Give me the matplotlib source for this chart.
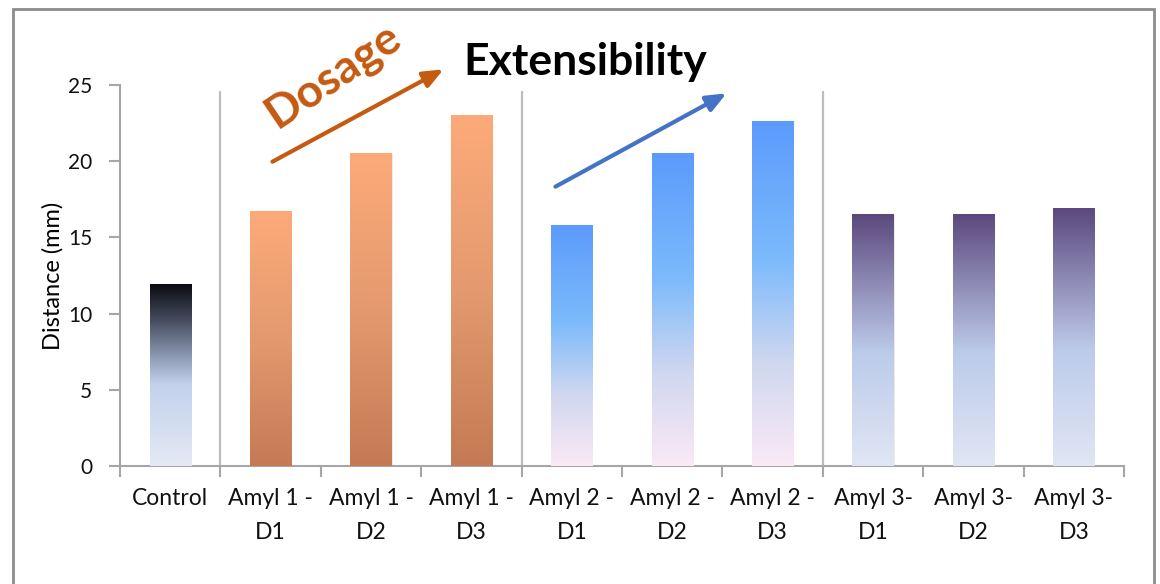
import numpy as np
import matplotlib
matplotlib.use("Agg")
import matplotlib.pyplot as plt
from matplotlib.colors import LinearSegmentedColormap
from matplotlib.patches import Rectangle, FancyArrowPatch

categories = ["Control", "Amyl 1 -\nD1", "Amyl 1 -\nD2", "Amyl 1 -\nD3",
              "Amyl 2 -\nD1", "Amyl 2 -\nD2", "Amyl 2 -\nD3",
              "Amyl 3-\nD1", "Amyl 3-\nD2", "Amyl 3-\nD3"]
values = [11.9, 16.7, 20.5, 23.0, 15.8, 20.5, 22.6, 16.5, 16.5, 16.9]
groups = ["control", "amyl1", "amyl1", "amyl1", "amyl2", "amyl2", "amyl2",
          "amyl3", "amyl3", "amyl3"]
yticks = [0, 5, 10, 15, 20, 25]

# gradient stops: (fraction from bottom, colour)
gradients = {
    "control": [(0.0, "#e4e9f5"), (0.45, "#c3d1ec"), (0.6, "#8d9ab4"),
                (0.8, "#474e60"), (1.0, "#0a0a10")],
    "amyl1": [(0.0, "#c47b55"), (0.5, "#e39a6e"), (1.0, "#fdaa7a")],
    "amyl2": [(0.0, "#fbe9f6"), (0.3, "#cfd7ef"), (0.6, "#7cbafc"),
              (1.0, "#5b9bfb")],
    "amyl3": [(0.0, "#e0e6f4"), (0.45, "#bccbea"), (0.65, "#9b9cc4"),
              (1.0, "#5b497d")],
}

FONT = "Lato"

fig = plt.figure(figsize=(11.6, 5.84), dpi=100)
ax = fig.add_axes([120/1160, 1-466/584, (1124-120)/1160, (466-85)/584])

x = np.arange(len(categories))
width = 0.41
bars = ax.bar(x, values, width=width, color="none", edgecolor="none", zorder=3)
for b, v, g in zip(bars, values, groups):
    cmap = LinearSegmentedColormap.from_list(g, gradients[g])
    grad = np.linspace(0, 1, 256).reshape(-1, 1)
    x0 = b.get_x()
    ax.add_patch(Rectangle((x0 + 0.01, 0), width, v, facecolor="#000000",
                           alpha=0.08, edgecolor="none", zorder=2))
    ax.imshow(grad, cmap=cmap, origin="lower", aspect="auto",
              extent=(x0, x0 + width, 0, v), zorder=3, interpolation="bilinear")

ax.set_xlim(-0.5, len(categories) - 0.5)
ax.set_ylim(0, 25)

# separators
for sx in [0.5, 3.5, 6.5]:
    ax.plot([sx, sx], [0, 24.6], color="#bdbdbd", lw=1.6, zorder=1,
            solid_capstyle="butt")

gray = "#a6a6a6"
for s in ["top", "right"]:
    ax.spines[s].set_visible(False)
for s in ["left", "bottom"]:
    ax.spines[s].set_color(gray)
    ax.spines[s].set_linewidth(1.5)

ax.set_yticks(yticks)
ax.set_yticklabels([str(t) for t in yticks])
ax.tick_params(axis="y", length=8, width=1.5, color=gray, labelsize=15,
               pad=12)
ax.set_xticks(np.arange(-0.5, len(categories), 1.0), minor=False)
ax.set_xticklabels([])
ax.tick_params(axis="x", length=8, width=1.5, color=gray, which="major")
ax.set_xticks(x, minor=True)
ax.set_xticklabels(categories, minor=True, fontsize=16.5, linespacing=1.75)
ax.tick_params(axis="x", which="minor", length=0, pad=16)

for lbl in ax.get_xticklabels(minor=True) + ax.get_yticklabels():
    lbl.set_fontfamily(FONT)
    lbl.set_color("#111111")

ax.set_ylabel("Distance (mm)", fontsize=17, family=FONT, labelpad=3)

# title
fig.text(585/1160, 1-62/584, "Extensibility", ha="center", va="center",
         fontsize=32, fontweight="bold", family=FONT, color="#000000")

# Dosage text and arrows
fig.text(333/1160, 1-76/584, "Dosage", ha="center", va="center",
         fontsize=33, fontweight="bold", family=FONT, color="#c55a11",
         rotation=34)
fig.patches.append(FancyArrowPatch((270/1160, 1-163/584), (446/1160, 1-68/584),
                                   transform=fig.transFigure,
                                   arrowstyle="-|>,head_length=12,head_width=5",
                                   color="#c55a11", lw=3, mutation_scale=1))
fig.patches.append(FancyArrowPatch((553/1160, 1-188/584), (729/1160, 1-92/584),
                                   transform=fig.transFigure,
                                   arrowstyle="-|>,head_length=12,head_width=5",
                                   color="#4472c4", lw=3, mutation_scale=1))

# outer border
fig.patches.append(Rectangle((13/1160, -0.05), (1154-13)/1160, 1.05 - 9/584,
                             transform=fig.transFigure, fill=False,
                             edgecolor="#8c8c8c", lw=2))

fig.savefig("out.png", dpi=100, facecolor="white")
